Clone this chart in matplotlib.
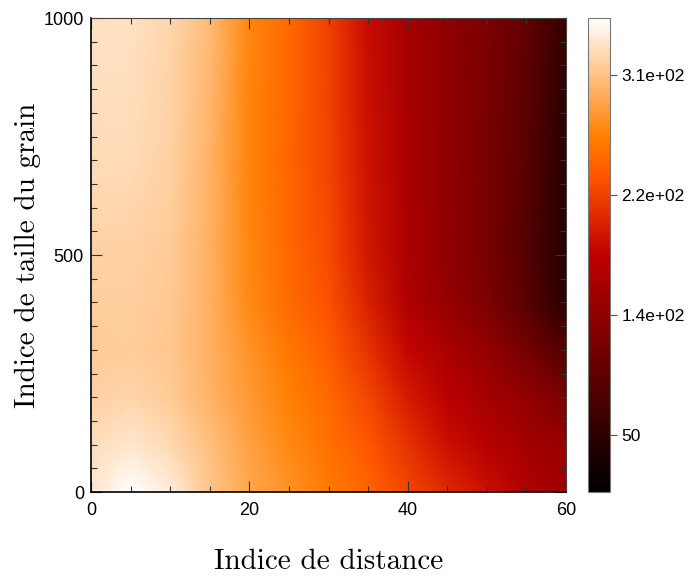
import matplotlib
matplotlib.use('Agg')
import matplotlib.pyplot as plt
from matplotlib.ticker import MultipleLocator
import numpy as np

# ---- data ----
distance = [0, 5, 10, 15, 20, 25, 30, 35, 40, 45, 50, 55, 60]
grain = [0, 100, 200, 300, 400, 500, 700, 1000]
row_0 = [334, 350, 338, 312, 292, 278, 262, 248, 228, 208, 190, 166, 150]
row_100 = [328, 334, 325, 308, 288, 272, 256, 238, 214, 190, 172, 155, 145]
row_200 = [320, 322, 316, 300, 282, 266, 250, 228, 198, 175, 157, 140, 118]
row_300 = [316, 317, 313, 298, 278, 260, 242, 214, 184, 160, 140, 114, 82]
row_400 = [318, 318, 314, 298, 272, 252, 234, 202, 166, 142, 120, 88, 45]
row_500 = [320, 320, 316, 298, 270, 250, 230, 196, 162, 138, 116, 86, 40]
row_700 = [326, 326, 320, 300, 268, 248, 226, 192, 160, 136, 116, 88, 45]
row_1000 = [330, 330, 322, 305, 270, 250, 224, 188, 157, 136, 121, 96, 55]
values = np.array([row_0, row_100, row_200, row_300, row_400, row_500, row_700, row_1000])

cbar_ticks = [50, 136.7, 223.3, 310]
cbar_labels = ['50', '1.4e+02', '2.2e+02', '3.1e+02']
vmin, vmax = 9, 351

sans = ['Liberation Sans', 'DejaVu Sans']
serif = ['cmr10', 'DejaVu Serif']

fig = plt.figure(figsize=(6.94, 5.77), dpi=100)
ax = fig.add_axes([0.1311, 0.1473, 0.6845, 0.8215])
cax = fig.add_axes([0.8473, 0.1473, 0.0317, 0.8215])

X, Y = np.meshgrid(distance, grain)
mesh = ax.pcolormesh(X, Y, values, shading='gouraud', cmap='gist_heat',
                     vmin=vmin, vmax=vmax, rasterized=True)

ax.set_xlim(0, 60)
ax.set_ylim(0, 1000)
ax.set_xticks([0, 20, 40, 60])
ax.set_yticks([0, 500, 1000])
ax.xaxis.set_minor_locator(MultipleLocator(5))
ax.yaxis.set_minor_locator(MultipleLocator(50))
ax.tick_params(which='both', direction='in', top=True, right=True, width=0.8, color='#333333')
ax.tick_params(which='major', length=8)
ax.tick_params(which='minor', length=4)
ax.tick_params(axis='x', pad=7)
ax.tick_params(axis='y', pad=5)
for lab in ax.get_xticklabels() + ax.get_yticklabels():
    lab.set_family(sans)
    lab.set_fontsize(13)
for s in ['left', 'bottom']:
    ax.spines[s].set_linewidth(1.2)
for s in ['top', 'right']:
    ax.spines[s].set_linewidth(0.8)
    ax.spines[s].set_color('#444444')

ax.set_xlabel('Indice de distance', family=serif, fontsize=21, va='center')
ax.set_ylabel('Indice de taille du grain', family=serif, fontsize=21, va='center')
ax.xaxis.set_label_coords(0.5, -0.147)
ax.yaxis.set_label_coords(-0.133, 0.5)

cb = fig.colorbar(mesh, cax=cax)
cb.set_ticks(cbar_ticks)
cb.set_ticklabels(cbar_labels)
cb.outline.set_edgecolor('#777777')
cb.outline.set_linewidth(0.8)
cax.tick_params(length=5, width=0.8, color='#555555', pad=3)
for lab in cax.get_yticklabels():
    lab.set_family(sans)
    lab.set_fontsize(12.5)

fig.savefig('out.png', dpi=100, facecolor='white')
